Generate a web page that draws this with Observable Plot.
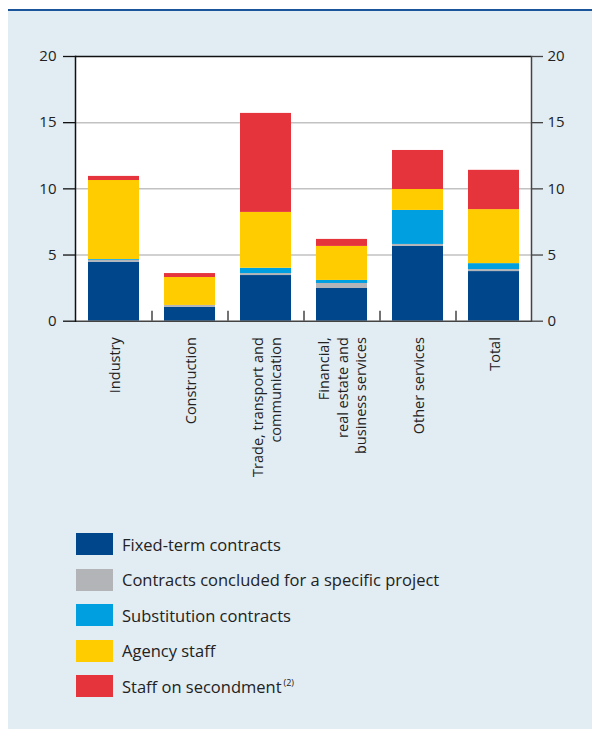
<!DOCTYPE html>
<html>
<head>
<meta charset="utf-8">
<script src="https://cdn.jsdelivr.net/npm/d3@7"></script>
<script src="https://cdn.jsdelivr.net/npm/@observablehq/plot@0.6"></script>
<style>
  html, body { margin: 0; padding: 0; background: #ffffff; }
  #wrap { position: relative; width: 592px; height: 729px; overflow: hidden; font-family: "Open Sans", "Noto Sans", sans-serif; }
  #panel { position: absolute; left: 8px; top: 9px; right: 0; bottom: 0; background: #e1ecf3; border-top: 2px solid #1a559c; }
  #chart { position: absolute; left: 0; top: 0; }
  #legend { position: absolute; left: 76px; top: 533px; }
  .row { display: flex; align-items: center; height: 22px; margin-bottom: 13.5px; }
  .sw { width: 37px; height: 22px; margin-right: 9px; flex: none; }
  .lab { font-size: 16.5px; color: #222; white-space: nowrap; }
  .lab sup { font-size: 9px; vertical-align: 7px; margin-left: 2px; }
</style>
</head>
<body>
<div id="wrap">
  <div id="panel"></div>
  <div id="chart"></div>
  <div id="legend"></div>
</div>
<script>
const categories = ["Industry", "Construction", "Trade, transport and\ncommunication", "Financial,\nreal estate and\nbusiness services", "Other services", "Total"];
const seriesNames = ["Fixed-term contracts", "Contracts concluded for a specific project", "Substitution contracts", "Agency staff", "Staff on secondment"];
const seriesColors = ["#00468b", "#b2b4b7", "#009fe0", "#ffcc00", "#e5343c"];
const fixedTerm     = [4.46, 1.04, 3.45, 2.47, 5.65, 3.75];
const specificProj  = [0.14, 0.15, 0.15, 0.38, 0.15, 0.15];
const substitution  = [0.06, 0.00, 0.40, 0.23, 2.57, 0.45];
const agency        = [5.97, 2.11, 4.22, 2.57, 1.58, 4.08];
const secondment    = [0.31, 0.30, 7.48, 0.53, 2.95, 2.97];
const yTicks = [0, 5, 10, 15, 20];
const gridValues = [5, 10, 15];

const seriesValues = [fixedTerm, specificProj, substitution, agency, secondment];
const data = [];
seriesNames.forEach((s, si) => categories.forEach((c, ci) => data.push({category: c, series: s, value: seriesValues[si][ci]})));

const W = 592, mL = 75, mR = 61, mT = 56, plotBottom = 320.7, H = 505;
const halfStep = (W - mL - mR) / categories.length / 2;

const chart = Plot.plot({
  width: W, height: H,
  marginLeft: mL, marginRight: mR, marginTop: mT, marginBottom: H - plotBottom,
  style: {background: "transparent", fontFamily: "'Open Sans', 'Noto Sans', sans-serif", color: "#222"},
  x: {domain: categories, paddingInner: 0.33, paddingOuter: 0.165, axis: null},
  y: {domain: [0, 20], axis: null},
  color: {domain: seriesNames, range: seriesColors},
  marks: [
    Plot.frame({fill: "white", stroke: "none"}),
    Plot.ruleY(gridValues, {stroke: "#c2c2c2", strokeWidth: 1.5}),
    Plot.barY(data, {x: "category", y: "value", fill: "series", order: seriesNames}),
    Plot.ruleY([20], {stroke: "#111", strokeWidth: 1.5}),
    Plot.ruleY([0], {stroke: "#444", strokeWidth: 1.5}),
    Plot.frame({anchor: "left", stroke: "#111", strokeWidth: 1.5}),
    Plot.frame({anchor: "right", stroke: "#444", strokeWidth: 1.5}),
    Plot.ruleX(categories.slice(1), {x: d => d, dx: -halfStep, y1: 0, y2: 0, insetTop: -10, stroke: "#444", strokeWidth: 1.5}),
    Plot.axisY(yTicks, {anchor: "left", tickSize: 12, tickPadding: 7, fontSize: 15, stroke: "#111", strokeWidth: 1.3, label: null}),
    Plot.axisY(yTicks, {anchor: "right", tickSize: 11, tickPadding: 5, fontSize: 15, stroke: "#444", strokeWidth: 1.3, label: null}),
    Plot.text(categories, {x: d => d, text: d => d, frameAnchor: "bottom", dy: 16, rotate: -90, textAnchor: "end", lineAnchor: "middle", lineHeight: 1.27, fontSize: 14.5, fill: "#222"})
  ]
});
document.getElementById("chart").appendChild(chart);

const legend = document.getElementById("legend");
seriesNames.forEach((s, i) => {
  const row = document.createElement("div");
  row.className = "row";
  const sw = document.createElement("div");
  sw.className = "sw";
  sw.style.background = seriesColors[i];
  const lab = document.createElement("div");
  lab.className = "lab";
  lab.textContent = s;
  if (i === seriesNames.length - 1) {
    const sup = document.createElement("sup");
    sup.textContent = "(2)";
    lab.appendChild(sup);
  }
  row.appendChild(sw);
  row.appendChild(lab);
  legend.appendChild(row);
});
</script>
</body>
</html>
